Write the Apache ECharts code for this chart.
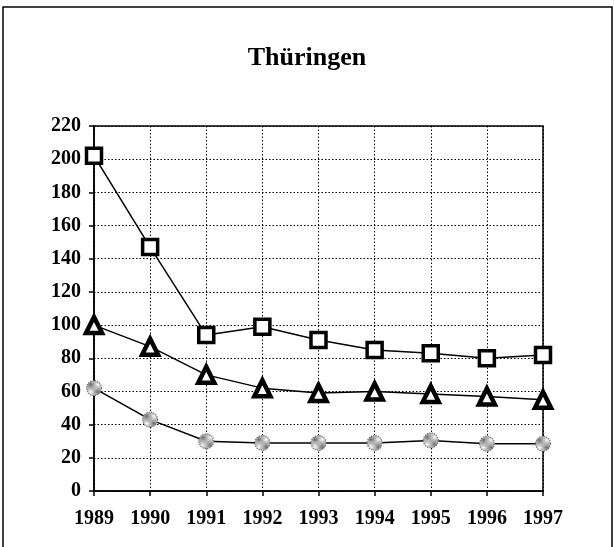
<!DOCTYPE html>
<html>
<head>
<meta charset="utf-8">
<script src="https://cdn.jsdelivr.net/npm/echarts@6/dist/echarts.min.js"></script>
<style>html,body{margin:0;padding:0;background:#fff;}#c{width:614px;height:547px;}</style>
</head>
<body>
<div id="c"></div>
<script>
const title = 'Thüringen';
const years = ['1989','1990','1991','1992','1993','1994','1995','1996','1997'];
const squareSeries = [202, 147, 94, 99, 91, 85, 83, 80, 82];
const triangleSeries = [100, 87, 70, 62, 59, 60, 58.5, 57, 55];
const circleSeries = [62, 43, 30, 29, 29, 29, 30.5, 28.5, 28.5];
const yTicks = [0, 20, 40, 60, 80, 100, 120, 140, 160, 180, 200, 220];

// stipple pattern for the grey markers
const pat = document.createElement('canvas');
pat.width = 2; pat.height = 2;
const pc = pat.getContext('2d');
pc.fillStyle = '#fff'; pc.fillRect(0, 0, 2, 2);
pc.fillStyle = '#6a6a6a'; pc.fillRect(0, 0, 1, 1); pc.fillRect(1, 1, 1, 1);

const font = '"Liberation Serif", "DejaVu Serif", serif';
const chart = echarts.init(document.getElementById('c'));
chart.setOption({
  animation: false,
  backgroundColor: '#fff',
  title: {
    text: title, left: 'center', top: 40,
    textStyle: { fontFamily: font, fontWeight: 'bold', fontSize: 26, color: '#000' }
  },
  graphic: [{
    type: 'rect', shape: { x: 3, y: 7, width: 609, height: 560 },
    style: { fill: 'none', stroke: '#000', lineWidth: 1.5 }, z: -1
  }],
  grid: { left: 94, right: 71, top: 126, bottom: 56, show: true, borderColor: '#000', borderWidth: 1.5, backgroundColor: 'transparent' },
  xAxis: {
    type: 'category', data: years, boundaryGap: false,
    axisLine: { lineStyle: { color: '#000', width: 1.5 } },
    axisTick: { show: true, length: 5, inside: false, lineStyle: { color: '#000', width: 1.5 } },
    axisLabel: { margin: 18, color: '#000', fontFamily: font, fontWeight: 'bold', fontSize: 20 },
    splitLine: { show: true, lineStyle: { color: '#000', type: [1.5, 2], width: 1 } }
  },
  yAxis: {
    type: 'value', min: yTicks[0], max: yTicks[yTicks.length - 1], interval: 20,
    axisLine: { show: true, lineStyle: { color: '#000', width: 1.5 } },
    axisTick: { show: true, length: 5, lineStyle: { color: '#000', width: 1.5 } },
    axisLabel: { margin: 13, color: '#000', fontFamily: font, fontWeight: 'bold', fontSize: 20 },
    splitLine: { show: true, lineStyle: { color: '#000', type: [1.5, 2], width: 1 } }
  },
  series: [
    {
      type: 'line', data: squareSeries, symbol: 'rect', symbolSize: 15,
      lineStyle: { color: '#000', width: 1.5 },
      itemStyle: { color: '#fff', borderColor: '#000', borderWidth: 3.5 }, z: 5
    },
    {
      type: 'line', data: triangleSeries, symbol: 'triangle', symbolSize: 16,
      lineStyle: { color: '#000', width: 1.5 },
      itemStyle: { color: '#fff', borderColor: '#000', borderWidth: 4.5 }, z: 5
    },
    {
      type: 'line', data: circleSeries, symbol: 'circle', symbolSize: 15,
      lineStyle: { color: '#000', width: 1.5 },
      itemStyle: { color: { image: pat, repeat: 'repeat' }, borderColor: '#777', borderWidth: 1.2, borderType: 'dotted' }, z: 5
    }
  ]
});
</script>
</body>
</html>
